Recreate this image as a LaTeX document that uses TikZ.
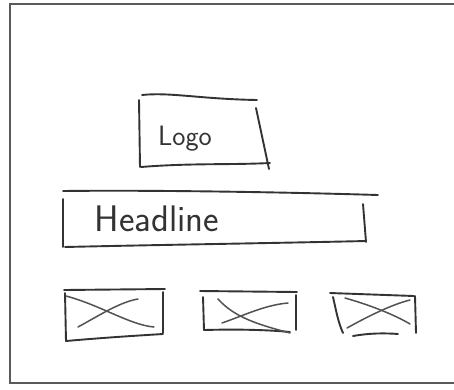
\documentclass[tikz,border=0pt]{standalone}
\usetikzlibrary{calc}
\definecolor{ink}{HTML}{333333}
\definecolor{framegray}{HTML}{5A5A5A}
\begin{document}
\begin{tikzpicture}[x=1pt,y=-1pt,
  pen/.style={draw=ink,line width=1.9pt,line cap=round,line join=round},
  lightpen/.style={draw=ink!85,line width=1.5pt,line cap=round},
  framepen/.style={draw=framegray,line width=2pt},
  hand/.style={text=ink,inner sep=0pt,font=\sffamily}]
\useasboundingbox (0,0) rectangle (454,389);
\fill[white] (0,0) rectangle (454,389);
% outer frame (open on the right)
\draw[framepen] (456,3.5) -- (10,3.5) -- (10,383) -- (456,383);

% Logo box
\draw[pen] (142,95) .. controls (170,92) and (200,99) .. (257,100);
\draw[pen] (139,100) -- (140,167);
\draw[pen] (141,167) .. controls (190,163) and (230,165) .. (270,163);
\draw[pen] (256,108) -- (269,169);
\node[hand,font=\sffamily\fontsize{28}{28}\selectfont] (logo) at (185,139) {Logo};

% Headline box
\draw[pen] (63,191) .. controls (150,190) and (280,192) .. (378,195);
\draw[pen] (63,199) -- (63,247);
\draw[pen] (65,247) .. controls (150,245) and (280,243) .. (366,241);
\draw[pen] (363,204) -- (366,242);
\node[hand,font=\sffamily\fontsize{37}{37}\selectfont] (headline) at (157,219) {Headline};

% Image box 1
\draw[pen] (64,290) -- (165,289);
\draw[pen] (65,293) -- (66,341);
\draw[pen] (66,341) .. controls (100,338) and (130,336) .. (163,334);
\draw[pen] (163,292) -- (163,333);
\draw[lightpen] (66,296) .. controls (100,305) and (130,325) .. (154,327);
\draw[lightpen] (78,327) .. controls (100,315) and (120,302) .. (138,299);

% Image box 2
\draw[pen] (200,291) -- (297,292);
\draw[pen] (203,297) -- (204,330);
\draw[pen] (204,330) .. controls (240,329) and (270,330) .. (290,332);
\draw[pen] (296,295) -- (296,330);
\draw[lightpen] (218,299) .. controls (235,318) and (260,325) .. (290,333);
\draw[lightpen] (222,323) .. controls (245,315) and (265,305) .. (288,303);

% Image box 3
\draw[pen] (330,293) -- (414,296);
\draw[pen] (333,297) .. controls (336,310) and (338,322) .. (343,333);
\draw[pen] (353,336) .. controls (370,333) and (385,333) .. (398,334);
\draw[pen] (415,296) -- (416,333);
\draw[lightpen] (345,298) .. controls (370,305) and (395,315) .. (410,324);
\draw[lightpen] (347,328) .. controls (365,318) and (390,305) .. (410,300);
\end{tikzpicture}
\end{document}
